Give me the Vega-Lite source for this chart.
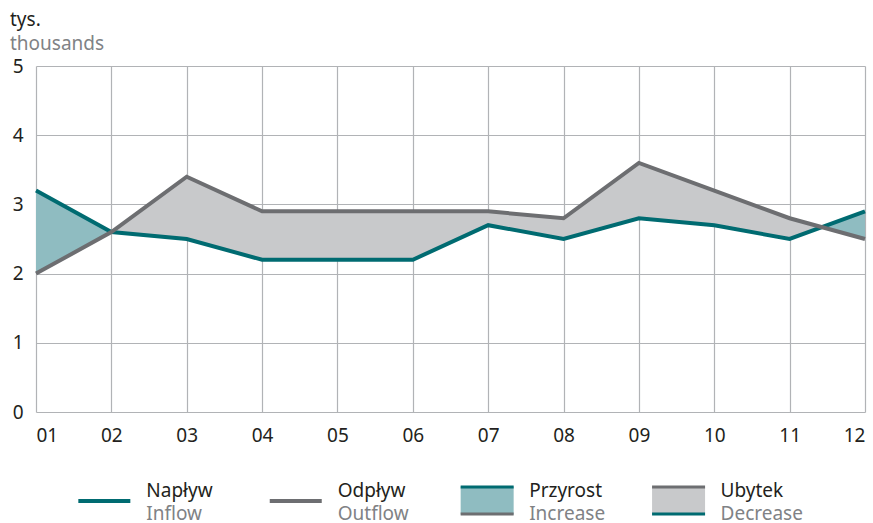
{
  "$schema": "https://vega.github.io/schema/vega-lite/v6.json",
  "padding": {"left": 10, "top": 11, "right": 0, "bottom": 0},
  "bounds": "flush",
  "spacing": 68,
  "config": {
    "view": {"stroke": null},
    "font": "Noto Sans",
    "axis": {
      "domain": false,
      "ticks": false,
      "gridColor": "#b1b3b6",
      "gridWidth": 1.2,
      "gridOpacity": 1,
      "labelFont": "Noto Sans",
      "labelFontSize": 19,
      "labelColor": "#231f20",
      "title": null
    }
  },
  "resolve": {"scale": {"x": "independent", "y": "independent", "color": "independent"}},
  "datasets": {
    "flows": [
      {"m": 1, "inflow": 3.2, "outflow": 2.0},
      {"m": 2, "inflow": 2.6, "outflow": 2.6},
      {"m": 3, "inflow": 2.5, "outflow": 3.4},
      {"m": 4, "inflow": 2.2, "outflow": 2.9},
      {"m": 5, "inflow": 2.2, "outflow": 2.9},
      {"m": 6, "inflow": 2.2, "outflow": 2.9},
      {"m": 7, "inflow": 2.7, "outflow": 2.9},
      {"m": 8, "inflow": 2.5, "outflow": 2.8},
      {"m": 9, "inflow": 2.8, "outflow": 3.6},
      {"m": 10, "inflow": 2.7, "outflow": 3.2},
      {"m": 11, "inflow": 2.5, "outflow": 2.8},
      {"m": 12, "inflow": 2.9, "outflow": 2.5}
    ],
    "bands": [
      {"seg": "a", "kind": "Przyrost", "m": 1, "inflow": 3.2, "outflow": 2.0},
      {"seg": "a", "kind": "Przyrost", "m": 2, "inflow": 2.6, "outflow": 2.6},
      {"seg": "b", "kind": "Ubytek", "m": 2, "inflow": 2.6, "outflow": 2.6},
      {"seg": "b", "kind": "Ubytek", "m": 3, "inflow": 2.5, "outflow": 3.4},
      {"seg": "b", "kind": "Ubytek", "m": 4, "inflow": 2.2, "outflow": 2.9},
      {"seg": "b", "kind": "Ubytek", "m": 5, "inflow": 2.2, "outflow": 2.9},
      {"seg": "b", "kind": "Ubytek", "m": 6, "inflow": 2.2, "outflow": 2.9},
      {"seg": "b", "kind": "Ubytek", "m": 7, "inflow": 2.7, "outflow": 2.9},
      {"seg": "b", "kind": "Ubytek", "m": 8, "inflow": 2.5, "outflow": 2.8},
      {"seg": "b", "kind": "Ubytek", "m": 9, "inflow": 2.8, "outflow": 3.6},
      {"seg": "b", "kind": "Ubytek", "m": 10, "inflow": 2.7, "outflow": 3.2},
      {"seg": "b", "kind": "Ubytek", "m": 11, "inflow": 2.5, "outflow": 2.8},
      {"seg": "b", "kind": "Ubytek", "m": 11.43, "inflow": 2.67, "outflow": 2.67},
      {"seg": "c", "kind": "Przyrost", "m": 11.43, "inflow": 2.67, "outflow": 2.67},
      {"seg": "c", "kind": "Przyrost", "m": 12, "inflow": 2.9, "outflow": 2.5}
    ],
    "legend": [
      {"i": 0, "name": "Napływ", "en": "Inflow"},
      {"i": 1, "name": "Odpływ", "en": "Outflow"},
      {"i": 2, "name": "Przyrost", "en": "Increase"},
      {"i": 3, "name": "Ubytek", "en": "Decrease"}
    ]
  },
  "vconcat": [
    {
      "width": 829,
      "height": 346,
      "title": {
        "text": "tys.",
        "subtitle": "thousands",
        "anchor": "start",
        "frame": "group",
        "dx": -26,
        "offset": 3,
        "font": "Noto Sans",
        "fontSize": 19,
        "fontWeight": "normal",
        "color": "#231f20",
        "subtitleFont": "Noto Sans",
        "subtitleFontSize": 19,
        "subtitleColor": "#808285",
        "subtitlePadding": 5
      },
      "layer": [
        {
          "data": {"name": "bands"},
          "mark": {"type": "area", "opacity": 1},
          "encoding": {
            "x": {
              "field": "m", "type": "quantitative",
              "scale": {"domain": [1, 12], "nice": false, "zero": false},
              "axis": {
                "values": [1, 2, 3, 4, 5, 6, 7, 8, 9, 10, 11, 12],
                "labelExpr": "datum.value < 10 ? '0' + datum.value : '' + datum.value",
                "labelPadding": 14,
                "grid": true
              }
            },
            "y": {
              "field": "inflow", "type": "quantitative",
              "scale": {"domain": [0, 5], "nice": false},
              "axis": {"values": [0, 1, 2, 3, 4, 5], "format": "d", "labelPadding": 13, "grid": true}
            },
            "y2": {"field": "outflow"},
            "color": {
              "field": "kind", "type": "nominal",
              "scale": {"domain": ["Przyrost", "Ubytek"], "range": ["#8fbcc1", "#c8c9cb"]},
              "legend": null
            },
            "detail": {"field": "seg"}
          }
        },
        {
          "data": {"name": "flows"},
          "mark": {"type": "line", "color": "#006b71", "strokeWidth": 4, "strokeJoin": "miter"},
          "encoding": {
            "x": {"field": "m", "type": "quantitative"},
            "y": {"field": "inflow", "type": "quantitative"}
          }
        },
        {
          "data": {"name": "flows"},
          "mark": {"type": "line", "color": "#6d6e71", "strokeWidth": 4, "strokeJoin": "miter"},
          "encoding": {
            "x": {"field": "m", "type": "quantitative"},
            "y": {"field": "outflow", "type": "quantitative"}
          }
        }
      ]
    },
    {
      "width": 829,
      "height": 40,
      "data": {"name": "legend"},
      "layer": [
        {
          "transform": [{"filter": "datum.i == 0"}],
          "mark": {"type": "tick", "orient": "horizontal", "size": 52, "thickness": 4, "color": "#006b71", "opacity": 1},
          "encoding": {
            "x": {"field": "i", "type": "quantitative", "scale": {"domain": [-0.357, 3.974], "nice": false, "zero": false}, "axis": null},
            "y": {"datum": 2.1, "type": "quantitative", "scale": {"domain": [0, 4], "reverse": true, "nice": false}, "axis": null}
          }
        },
        {
          "transform": [{"filter": "datum.i == 1"}],
          "mark": {"type": "tick", "orient": "horizontal", "size": 52, "thickness": 4, "color": "#6d6e71", "opacity": 1},
          "encoding": {
            "x": {"field": "i", "type": "quantitative"},
            "y": {"datum": 2.1, "type": "quantitative"}
          }
        },
        {
          "transform": [{"filter": "datum.i == 2"}],
          "mark": {"type": "tick", "orient": "horizontal", "size": 53, "thickness": 28, "color": "#8fbcc1", "opacity": 1},
          "encoding": {
            "x": {"field": "i", "type": "quantitative"},
            "y": {"datum": 2.05, "type": "quantitative"}
          }
        },
        {
          "transform": [{"filter": "datum.i == 3"}],
          "mark": {"type": "tick", "orient": "horizontal", "size": 53, "thickness": 28, "color": "#c8c9cb", "opacity": 1},
          "encoding": {
            "x": {"field": "i", "type": "quantitative"},
            "y": {"datum": 2.05, "type": "quantitative"}
          }
        },
        {
          "transform": [{"filter": "datum.i == 2"}],
          "mark": {"type": "tick", "orient": "horizontal", "size": 53, "thickness": 3, "color": "#006b71", "opacity": 1},
          "encoding": {
            "x": {"field": "i", "type": "quantitative"},
            "y": {"datum": 0.7, "type": "quantitative"}
          }
        },
        {
          "transform": [{"filter": "datum.i == 2"}],
          "mark": {"type": "tick", "orient": "horizontal", "size": 53, "thickness": 3, "color": "#6d6e71", "opacity": 1},
          "encoding": {
            "x": {"field": "i", "type": "quantitative"},
            "y": {"datum": 3.4, "type": "quantitative"}
          }
        },
        {
          "transform": [{"filter": "datum.i == 3"}],
          "mark": {"type": "tick", "orient": "horizontal", "size": 53, "thickness": 3, "color": "#6d6e71", "opacity": 1},
          "encoding": {
            "x": {"field": "i", "type": "quantitative"},
            "y": {"datum": 0.7, "type": "quantitative"}
          }
        },
        {
          "transform": [{"filter": "datum.i == 3"}],
          "mark": {"type": "tick", "orient": "horizontal", "size": 53, "thickness": 3, "color": "#006b71", "opacity": 1},
          "encoding": {
            "x": {"field": "i", "type": "quantitative"},
            "y": {"datum": 3.4, "type": "quantitative"}
          }
        },
        {
          "mark": {"type": "text", "align": "left", "baseline": "alphabetic", "dx": 42, "fontSize": 19, "font": "Noto Sans", "color": "#231f20"},
          "encoding": {
            "x": {"field": "i", "type": "quantitative"},
            "y": {"datum": 1.7, "type": "quantitative"},
            "text": {"field": "name"}
          }
        },
        {
          "mark": {"type": "text", "align": "left", "baseline": "alphabetic", "dx": 42, "fontSize": 19, "font": "Noto Sans", "color": "#808285"},
          "encoding": {
            "x": {"field": "i", "type": "quantitative"},
            "y": {"datum": 4.0, "type": "quantitative"},
            "text": {"field": "en"}
          }
        }
      ]
    }
  ]
}
